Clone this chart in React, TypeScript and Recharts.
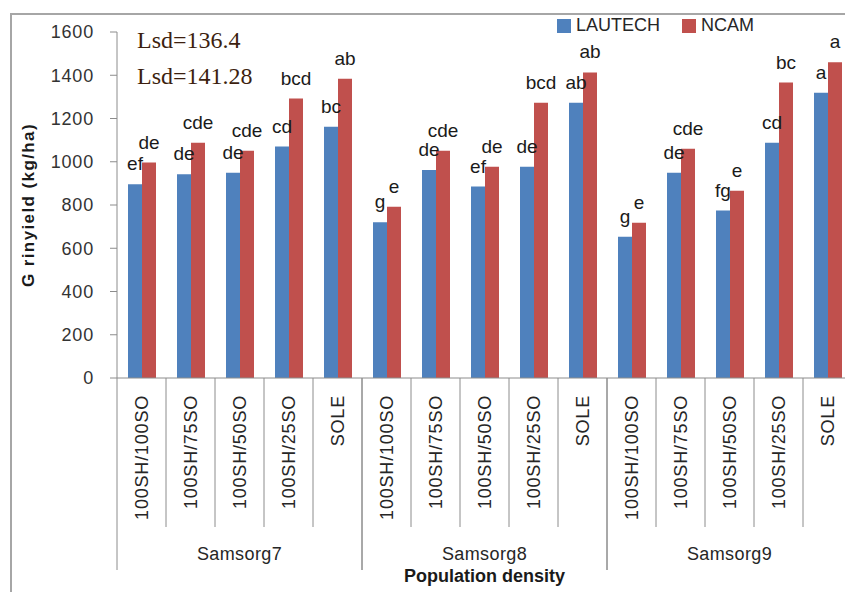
import { BarChart, Bar, XAxis, YAxis, Legend, LabelList } from 'recharts';

const groups = ['Samsorg7', 'Samsorg8', 'Samsorg9'];
const densities = ['100SH/100SO', '100SH/75SO', '100SH/50SO', '100SH/25SO', 'SOLE'];

// grain yield, kg/ha
const lautech = [896, 942, 949, 1070, 1162, 720, 962, 885, 977, 1273, 653, 949, 774, 1088, 1319];
const ncam = [996, 1088, 1051, 1292, 1384, 792, 1051, 977, 1273, 1413, 718, 1060, 866, 1366, 1460];

const lautechLetters = ['ef', 'de', 'de', 'cd', 'bc', 'g', 'de', 'ef', 'de', 'ab', 'g', 'de', 'fg', 'cd', 'a'];
const ncamLetters = ['de', 'cde', 'cde', 'bcd', 'ab', 'e', 'cde', 'de', 'bcd', 'ab', 'e', 'cde', 'e', 'bc', 'a'];

const yTicks = [0, 200, 400, 600, 800, 1000, 1200, 1400, 1600];
const lsdNotes = ['Lsd=136.4', 'Lsd=141.28'];

const BLUE = '#4F81BD';
const RED = '#C0504D';
const AXIS = '#8c8c8c';
const FONT = '"Liberation Sans", Arial, sans-serif';

const CHART_W = 860;
const CHART_H = 592;
const Y_AXIS_W = 117;
const RIGHT = 8;
const PLOT_W = CHART_W - Y_AXIS_W - RIGHT;

const data = groups.flatMap((g, gi) =>
  densities.map((d, di) => {
    const i = gi * densities.length + di;
    return {
      key: `${g}|${d}`,
      group: g,
      density: d,
      lautech: lautech[i],
      ncam: ncam[i],
      lautechLetter: lautechLetters[i],
      ncamLetter: ncamLetters[i],
    };
  })
);

const BAND = PLOT_W / data.length;

function CategoryTick({ x, y, index }: any) {
  const d = data[index];
  if (!d) return null;
  const pos = index % densities.length;
  const half = BAND / 2;
  const last = pos === densities.length - 1;
  return (
    <g>
      <text
        transform={`translate(${x},${y + 17}) rotate(-90)`}
        textAnchor="end"
        dominantBaseline="central"
        fontSize={18}
        letterSpacing={0.8}
        fontFamily={FONT}
        fill="#262626"
      >
        {d.density}
      </text>
      {pos === 0 && <line x1={x - half} x2={x - half} y1={y} y2={y + 192} stroke={AXIS} />}
      <line x1={x + half} x2={x + half} y1={y} y2={y + (last ? 192 : 149)} stroke={AXIS} />
      {pos === 2 && (
        <text
          x={x}
          y={y + 176}
          textAnchor="middle"
          dominantBaseline="central"
          fontSize={18}
          letterSpacing={0.4}
          fontFamily={FONT}
          fill="#262626"
        >
          {d.group}
        </text>
      )}
    </g>
  );
}

function LegendContent() {
  const items = [
    { name: 'LAUTECH', color: BLUE },
    { name: 'NCAM', color: RED },
  ];
  return (
    <div style={{ display: 'flex', alignItems: 'center', fontFamily: FONT, fontSize: 18, color: '#262626' }}>
      {items.map((it) => (
        <span key={it.name} style={{ display: 'flex', alignItems: 'center', marginRight: 22 }}>
          <span style={{ width: 14, height: 14, background: it.color, marginRight: 5 }} />
          {it.name}
        </span>
      ))}
    </div>
  );
}

function YLabel({ viewBox }: any) {
  const cx = 28;
  const cy = viewBox.y + viewBox.height / 2;
  return (
    <text
      transform={`translate(${cx},${cy}) rotate(-90)`}
      textAnchor="middle"
      dominantBaseline="central"
      fontSize={17}
      fontWeight="bold"
      letterSpacing={1.4}
      fontFamily={FONT}
      fill="#1a1a1a"
    >
      G rinyield (kg/ha)
    </text>
  );
}

export default function App() {
  return (
    <div style={{ position: 'absolute', left: 0, top: 0, width: 845, height: 592, overflow: 'hidden', background: '#fff' }}>
      <div
        style={{
          position: 'absolute',
          left: 10,
          top: 13,
          width: 900,
          height: 700,
          borderLeft: '2px solid #a6a6a6',
          borderTop: '2px solid #a6a6a6',
        }}
      />
      <BarChart
        width={CHART_W}
        height={CHART_H}
        data={data}
        margin={{ top: 32, right: RIGHT, bottom: 14, left: 0 }}
        barGap={0}
        style={{ position: 'absolute', left: 0, top: 0 }}
      >
        <XAxis
          dataKey="key"
          interval={0}
          height={200}
          tickLine={false}
          tickSize={0}
          tickMargin={0}
          axisLine={{ stroke: AXIS }}
          tick={<CategoryTick />}
          label={{
            value: 'Population density',
            position: 'insideBottom',
            offset: -4,
            fontSize: 18,
            fontWeight: 'bold',
            fontFamily: FONT,
            fill: '#1a1a1a',
          }}
        />
        <YAxis
          width={Y_AXIS_W}
          domain={[0, 1600]}
          ticks={yTicks}
          interval={0}
          tickSize={7}
          tickMargin={16}
          axisLine={{ stroke: AXIS }}
          tickLine={{ stroke: AXIS }}
          tick={{ fontSize: 18, fill: '#333', fontFamily: FONT, letterSpacing: 0.8 }}
          label={<YLabel />}
        />
        <Legend
          layout="horizontal"
          verticalAlign="middle"
          align="center"
          content={<LegendContent />}
          wrapperStyle={{ top: 15, left: 557, width: 'auto' }}
        />
        <Bar dataKey="lautech" name="LAUTECH" fill={BLUE} barSize={14} isAnimationActive={false}>
          <LabelList dataKey="lautechLetter" position="top" offset={14} fontSize={19} fill="#1a1a1a" fontFamily={FONT} />
        </Bar>
        <Bar dataKey="ncam" name="NCAM" fill={RED} barSize={14} isAnimationActive={false}>
          <LabelList dataKey="ncamLetter" position="top" offset={14} fontSize={19} fill="#1a1a1a" fontFamily={FONT} />
        </Bar>
      </BarChart>
      {lsdNotes.map((t, i) => (
        <div
          key={t}
          style={{
            position: 'absolute',
            left: 137,
            top: 28 + i * 36,
            fontFamily: '"Liberation Serif", "Times New Roman", serif',
            fontSize: 24,
            lineHeight: '24px',
            color: '#3d1f0f',
            whiteSpace: 'nowrap',
          }}
        >
          {t}
        </div>
      ))}
    </div>
  );
}
